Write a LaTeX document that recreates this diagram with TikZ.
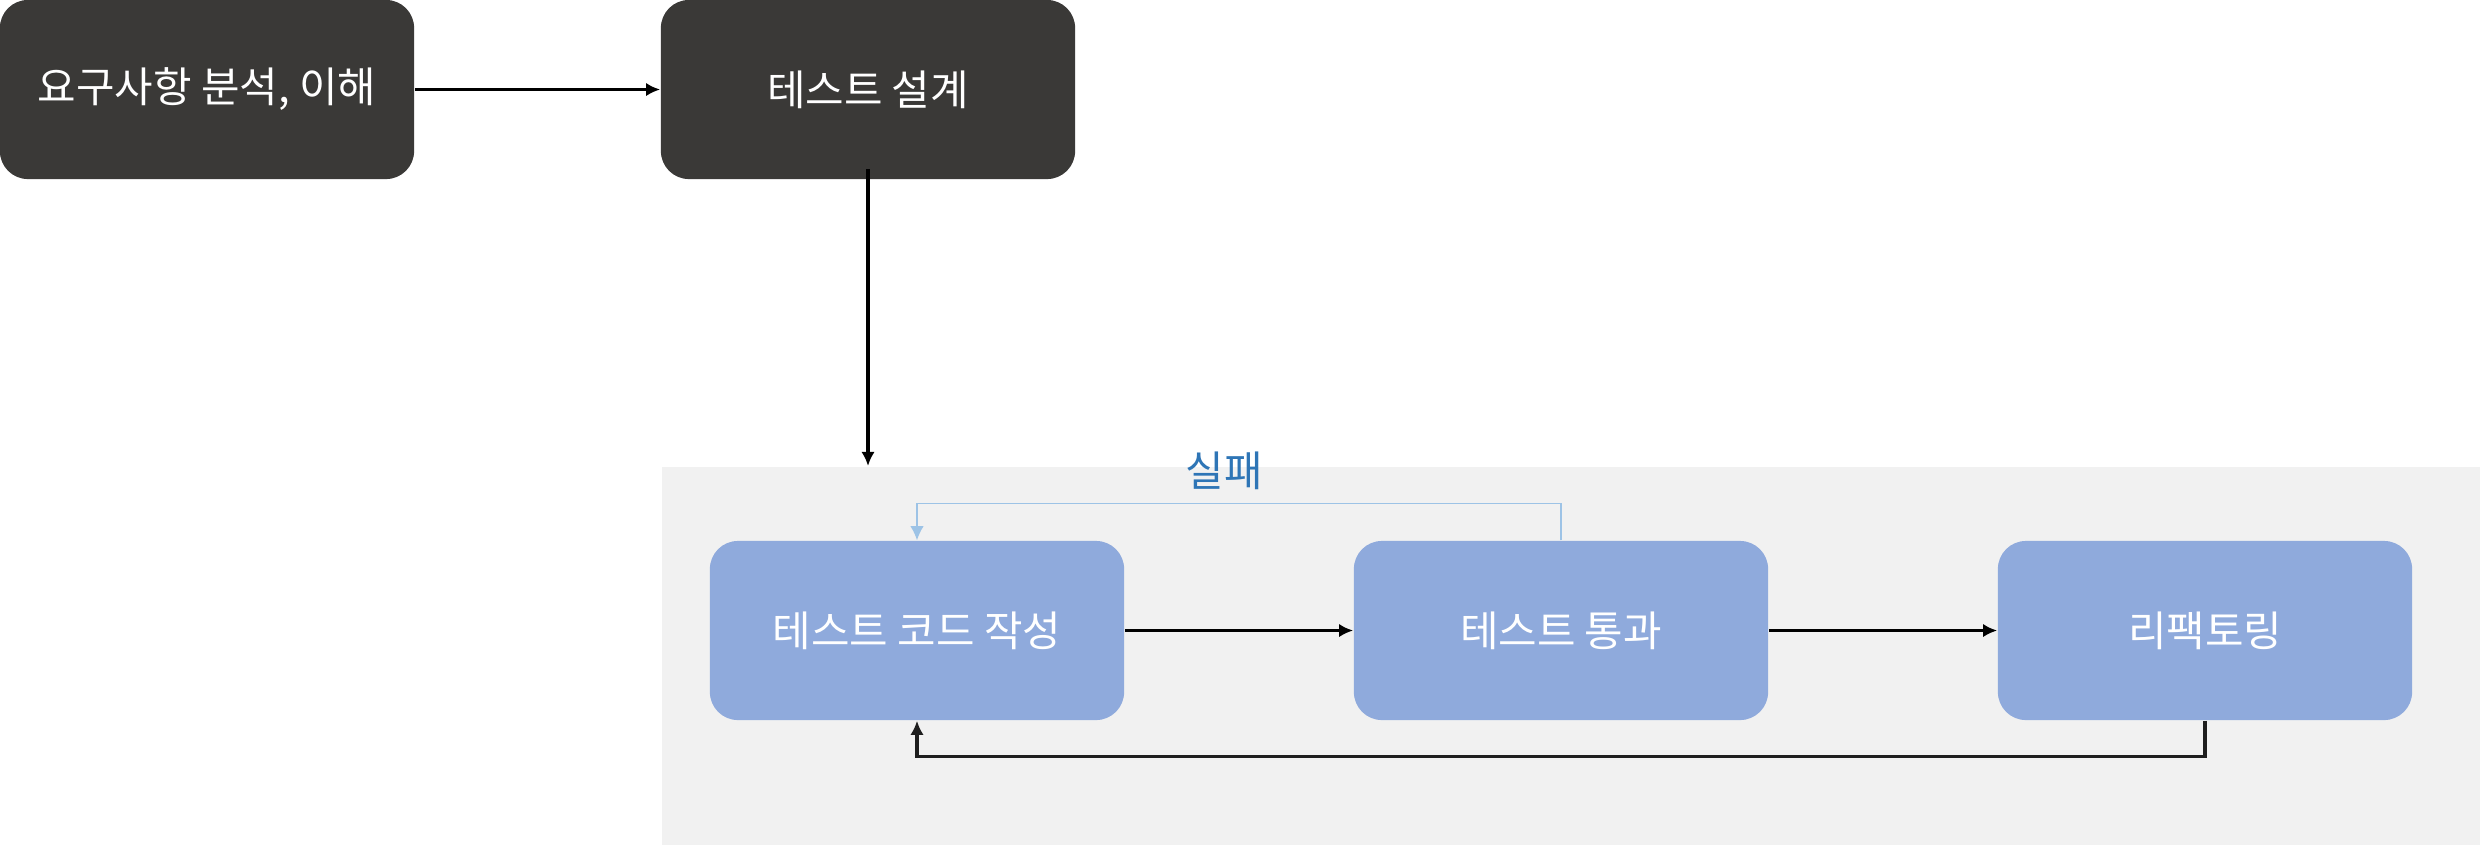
\documentclass[tikz,border=0pt]{standalone}
\usepackage{fontspec}
\newfontfamily\kr{Noto Sans CJK KR}
\usetikzlibrary{arrows.meta,calc}
\definecolor{darkbox}{HTML}{3A3937}
\definecolor{bluebox}{HTML}{8FAADC}
\definecolor{panelgray}{HTML}{F1F1F1}
\definecolor{failblue}{HTML}{2E75B6}
\definecolor{faillinec}{HTML}{9DC3E6}
\definecolor{retline}{HTML}{1E1E1E}
\tikzset{
  darkstep/.style={rectangle, rounded corners=0.28cm, fill=darkbox, text=white,
    minimum width=4.14cm, minimum height=1.79cm, inner sep=0pt,
    font=\kr\fontsize{11.9}{14}\selectfont},
  bluestep/.style={rectangle, rounded corners=0.28cm, fill=bluebox, text=white,
    minimum width=4.14cm, minimum height=1.79cm, inner sep=0pt,
    font=\kr\fontsize{11.9}{14}\selectfont},
  flow/.style={draw=black, line width=0.9pt, -{Latex[length=4pt,width=3.8pt]}},
  retflow/.style={draw=retline, line width=0.9pt, -{Latex[length=4pt,width=3.8pt]}},
  failflow/.style={draw=faillinec, line width=0.4pt, -{Latex[length=4pt,width=3.8pt]}},
  faillabel/.style={text=failblue, inner sep=0pt, font=\kr\fontsize{11.9}{14}\selectfont},
}
\begin{document}
\begin{tikzpicture}[x=0.01cm, y=-0.01cm]
\useasboundingbox (0,0) rectangle (2480,844);
% gray panel
\node[fill=panelgray, inner sep=0pt, minimum width=18.19cm, minimum height=3.78cm, anchor=north west] (panel) at (661,466) {};
% top boxes
\node[darkstep] (A) at (207,89.5) {요구사항 분석, 이해};
\node[darkstep] (B) at (868,89.5) {테스트 설계};
% bottom boxes
\node[bluestep] (C) at (917,630.5) {테스트 코드 작성};
\node[bluestep] (D) at (1561,630.5) {테스트 통과};
\node[bluestep] (E) at (2205,630.5) {리팩토링};
% label
\node[faillabel] (fail) at (1224,471) {실패};
% connectors
\draw[flow] (A.east) -- (B.west);
\coordinate (Bdown) at ([yshift=0.11cm]B.south);
\draw[flow] (Bdown) -- (Bdown |- panel.north);
\draw[flow] (C.east) -- (D.west);
\draw[flow] (D.east) -- (E.west);
\draw[failflow] (D.north) -- ++(0,-37) -| (C.north);
\draw[retflow] (E.south) -- ++(0,36) -| (C.south);
\end{tikzpicture}
\end{document}
